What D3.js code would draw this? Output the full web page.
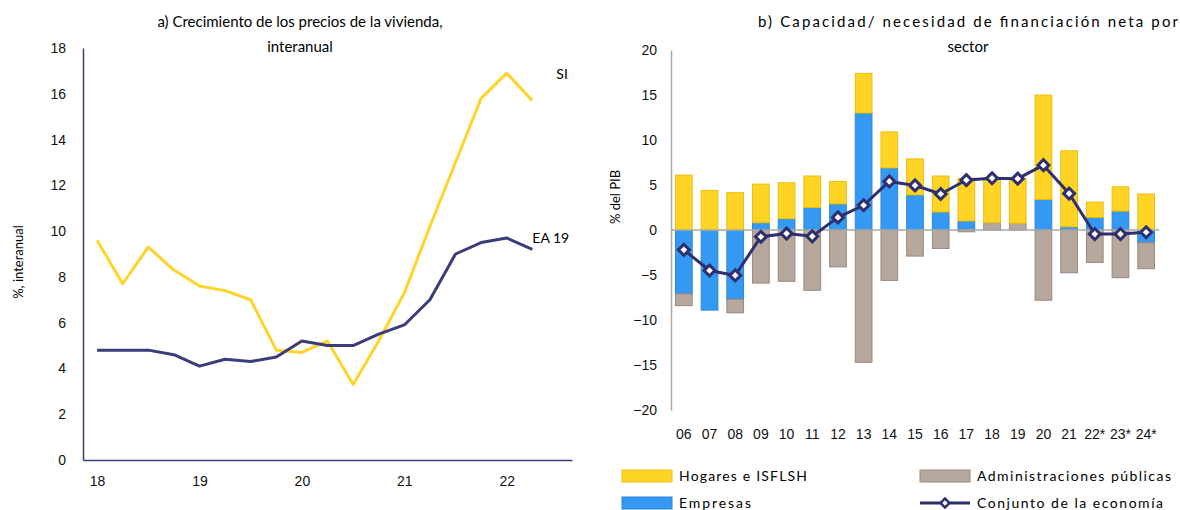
<!DOCTYPE html>
<html>
<head>
<meta charset="utf-8">
<script src="https://cdn.jsdelivr.net/npm/d3@7"></script>
<style>
  html, body { margin: 0; padding: 0; background: #fff; }
  svg { display: block; font-family: Lato, "Open Sans", sans-serif; }
  .tick text { fill: #111; }
</style>
</head>
<body>
<svg id="chart" width="1180" height="510"></svg>
<script>
// ---- Panel a) quarterly house price growth, y/y (%) ----
const quarterLabels = ["18","","","","19","","","","20","","","","21","","","","22",""];
const siValues   = [9.6, 7.7, 9.3, 8.3, 7.6, 7.4, 7.0, 4.8, 4.7, 5.2, 3.3, 5.2, 7.3, 10.2, 13.0, 15.8, 16.9, 15.7];
const ea19Values = [4.8, 4.8, 4.8, 4.6, 4.1, 4.4, 4.3, 4.5, 5.2, 5.0, 5.0, 5.5, 5.9, 7.0, 9.0, 9.5, 9.7, 9.2];
const leftTicks  = [0, 2, 4, 6, 8, 10, 12, 14, 16, 18];

// ---- Panel b) net lending/borrowing by sector (% of GDP) ----
const years      = ["06","07","08","09","10","11","12","13","14","15","16","17","18","19","20","21","22*","23*","24*"];
const empresas   = [-7.1, -8.9, -7.7, 0.8, 1.25, 2.5, 2.9, 13.0, 6.9, 3.9, 2.0, 1.0, 0.0, 0.0, 3.4, 0.35, 1.4, 2.1, -1.4];
const administraciones = [-1.3, 0.0, -1.5, -5.9, -5.7, -6.7, -4.1, -14.7, -5.6, -2.9, -2.05, -0.2, 0.8, 0.75, -7.8, -4.75, -3.6, -5.3, -2.9];
const hogares    = [6.1, 4.4, 4.15, 4.3, 4.0, 3.5, 2.5, 4.4, 4.0, 4.0, 4.0, 4.75, 4.95, 4.95, 11.6, 8.45, 1.7, 2.7, 4.0];
const conjunto   = [-2.2, -4.5, -5.05, -0.75, -0.4, -0.7, 1.4, 2.75, 5.4, 4.95, 4.0, 5.55, 5.75, 5.7, 7.2, 4.05, -0.45, -0.45, -0.25];
const rightTicks = [-20, -15, -10, -5, 0, 5, 10, 15, 20];

const svg = d3.select("#chart");

// Colours
const cYellow = "#FFD424", cYellowEdge = "#E9BE10";
const cBlue = "#3399F3", cBlueEdge = "#2C86D8";
const cGrey = "#B7A89E", cGreyEdge = "#9A877C";
const cNavy = "#2D2F6E";
const cLeftNavy = "#3A3D7A";
const cAxisGrey = "#A8A8A8";

// ================= Panel a =================
const xL = d3.scaleLinear().domain([-0.55, 18.55]).range([83, 572]);
const yL = d3.scaleLinear().domain([0, 18]).range([460, 48]);

svg.append("text").attr("x", 300).attr("y", 27).attr("text-anchor", "middle")
  .attr("font-size", 15).text("a) Crecimiento de los precios de la vivienda,");
svg.append("text").attr("x", 300).attr("y", 52).attr("text-anchor", "middle")
  .attr("font-size", 15).text("interanual");

const gyL = svg.append("g").attr("transform", "translate(83,0)")
  .call(d3.axisLeft(yL).tickValues(leftTicks).tickSize(0).tickPadding(17));
gyL.select(".domain").attr("stroke", cLeftNavy).attr("stroke-width", 1.5);
gyL.selectAll(".tick text").attr("font-size", 14);

const gxL = svg.append("g").attr("transform", "translate(0,460)")
  .call(d3.axisBottom(xL).tickValues([0, 4, 8, 12, 16])
    .tickFormat(i => quarterLabels[i]).tickSize(0).tickPadding(16));
gxL.select(".domain").attr("stroke", cLeftNavy).attr("stroke-width", 1.5);
gxL.selectAll(".tick text").attr("font-size", 14);

svg.append("text").attr("transform", "translate(23,262) rotate(-90)")
  .attr("text-anchor", "middle").attr("font-size", 13).text("%, interanual");

const lineL = d3.line().x((d, i) => xL(i)).y(d => yL(d));
svg.append("path").datum(siValues).attr("d", lineL)
  .attr("fill", "none").attr("stroke", "#FFD42A").attr("stroke-width", 3).attr("stroke-linejoin", "round");
svg.append("path").datum(ea19Values).attr("d", lineL)
  .attr("fill", "none").attr("stroke", cLeftNavy).attr("stroke-width", 3).attr("stroke-linejoin", "round");

svg.append("text").attr("x", xL(siValues.length - 1) + 24).attr("y", yL(16.9) + 6)
  .attr("font-size", 14).text("SI");
svg.append("text").attr("x", xL(ea19Values.length - 1) + 0).attr("y", yL(9.7) + 5)
  .attr("font-size", 14).text("EA 19");

// ================= Panel b =================
const xR = d3.scaleBand().domain(years).range([671, 1159]).paddingInner(0.35).paddingOuter(0.175);
const yR = d3.scaleLinear().domain([-20, 20]).range([410, 50]);

svg.append("text").attr("x", 758).attr("y", 27)
  .attr("font-size", 15).attr("textLength", 420).attr("lengthAdjust", "spacing")
  .text("b) Capacidad/ necesidad de financiación neta por");
svg.append("text").attr("x", 968).attr("y", 52).attr("text-anchor", "middle")
  .attr("font-size", 15).text("sector");

const gyR = svg.append("g").attr("transform", "translate(671,0)")
  .call(d3.axisLeft(yR).tickValues(rightTicks).tickSize(0).tickPadding(14));
gyR.select(".domain").attr("stroke", cAxisGrey).attr("stroke-width", 1.5);
gyR.selectAll(".tick text").attr("font-size", 14);

const gxR = svg.append("g").attr("transform", "translate(0,410)")
  .call(d3.axisBottom(xR).tickSize(0).tickPadding(19));
gxR.select(".domain").remove();
gxR.selectAll(".tick text").attr("font-size", 14);

svg.append("text").attr("transform", "translate(620,197) rotate(-90)")
  .attr("text-anchor", "middle").attr("font-size", 13).text("% del PIB");

// Stacked bars (positive and negative parts stacked separately)
const rows = years.map((y, i) => ({ year: y, empresas: empresas[i], administraciones: administraciones[i], hogares: hogares[i] }));
const keys = ["empresas", "administraciones", "hogares"];
const fills = { empresas: cBlue, administraciones: cGrey, hogares: cYellow };
const edges = { empresas: cBlueEdge, administraciones: cGreyEdge, hogares: cYellowEdge };
const stacked = d3.stack().keys(keys).offset(d3.stackOffsetDiverging)(rows);

svg.append("g").selectAll("g").data(stacked).join("g")
  .attr("fill", s => fills[s.key]).attr("stroke", s => edges[s.key]).attr("stroke-width", 1)
  .selectAll("rect").data(s => s.filter(d => d[1] - d[0] !== 0)).join("rect")
  .attr("x", d => xR(d.data.year))
  .attr("width", xR.bandwidth())
  .attr("y", d => yR(Math.max(d[0], d[1])))
  .attr("height", d => Math.abs(yR(d[0]) - yR(d[1])));

// Zero line
svg.append("line").attr("x1", 671).attr("x2", 1159).attr("y1", yR(0)).attr("y2", yR(0))
  .attr("stroke", cAxisGrey).attr("stroke-width", 1.5);

// Total economy line with diamond markers
const cx = y => xR(y) + xR.bandwidth() / 2;
const lineR = d3.line().x((d, i) => cx(years[i])).y(d => yR(d));
svg.append("path").datum(conjunto).attr("d", lineR)
  .attr("fill", "none").attr("stroke", cNavy).attr("stroke-width", 3).attr("stroke-linejoin", "round");
const diamond = d3.symbol().type(d3.symbolSquare).size(60);
svg.append("g").selectAll("path").data(conjunto).join("path")
  .attr("d", diamond)
  .attr("transform", (d, i) => `translate(${cx(years[i])},${yR(d)}) rotate(45)`)
  .attr("fill", "#fff").attr("stroke", cNavy).attr("stroke-width", 3);

// Legend
const legend = svg.append("g").attr("font-size", 14);
const legendItems = [
  { label: "Hogares e ISFLSH", type: "rect", fill: cYellow, edge: cYellowEdge, x: 622, y: 476, w: 128 },
  { label: "Administraciones públicas", type: "rect", fill: cGrey, edge: cGreyEdge, x: 920, y: 476, w: 194 },
  { label: "Empresas", type: "rect", fill: cBlue, edge: cBlueEdge, x: 622, y: 503, w: 72 },
  { label: "Conjunto de la economía", type: "line", x: 920, y: 503, w: 186 }
];
legendItems.forEach(it => {
  if (it.type === "rect") {
    legend.append("rect").attr("x", it.x).attr("y", it.y - 6).attr("width", 50).attr("height", 12)
      .attr("fill", it.fill).attr("stroke", it.edge).attr("stroke-width", 1);
  } else {
    legend.append("line").attr("x1", it.x).attr("x2", it.x + 50).attr("y1", it.y).attr("y2", it.y)
      .attr("stroke", cNavy).attr("stroke-width", 3);
    legend.append("path").attr("d", d3.symbol().type(d3.symbolSquare).size(40))
      .attr("transform", `translate(${it.x + 25},${it.y}) rotate(45)`)
      .attr("fill", "#fff").attr("stroke", cNavy).attr("stroke-width", 2.5);
  }
  legend.append("text").attr("x", it.x + 57).attr("y", it.y + 5)
    .attr("textLength", it.w).attr("lengthAdjust", "spacing").text(it.label);
});
</script>
</body>
</html>
